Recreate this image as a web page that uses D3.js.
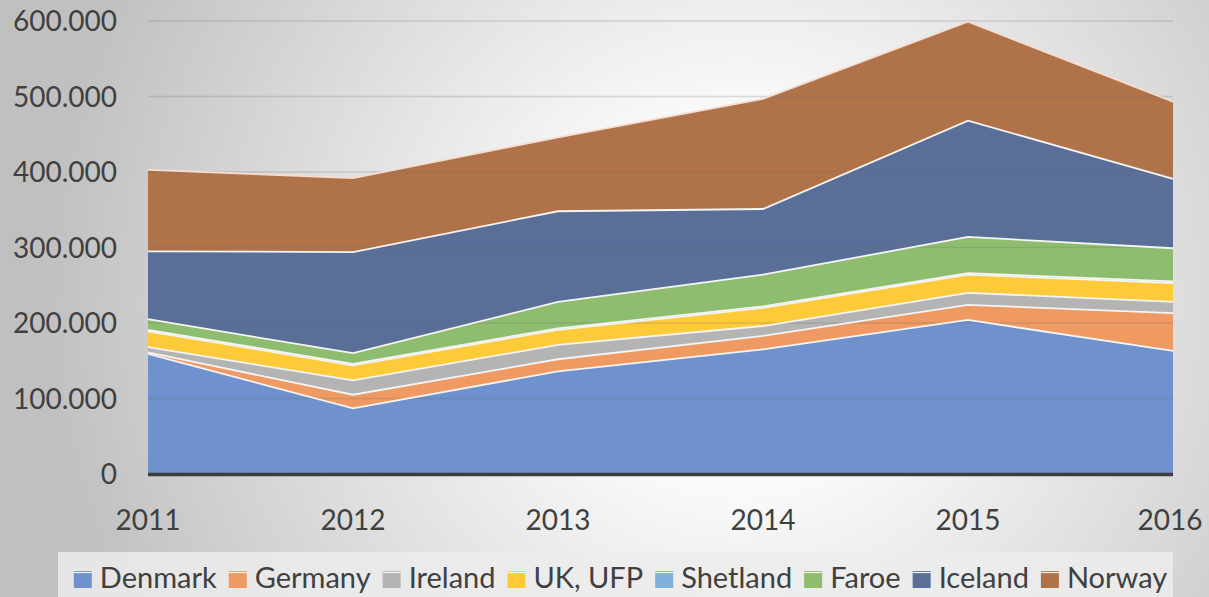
<!DOCTYPE html>
<html>
<head>
<meta charset="utf-8">
<script src="https://cdn.jsdelivr.net/npm/d3@7"></script>
<style>
  body { margin: 0; overflow: hidden; }
  svg { display: block; font-family: Lato, "Open Sans", sans-serif; }
</style>
</head>
<body>
<svg width="1209" height="597"></svg>
<script>
var years = [2011, 2012, 2013, 2014, 2015, 2016]
var countries = ["Denmark", "Germany", "Ireland", "UK, UFP", "Shetland", "Faroe", "Iceland", "Norway"]
var colors = ["#6f92cf", "#ee9a62", "#b4b4b4", "#fdcb3a", "#7eb0dc", "#8fbd6f", "#5a6f97", "#b07349"]

var denmark = [159000, 87000, 136000, 165000, 204000, 163000]
var germany = [2000, 18000, 16000, 18000, 20000, 50000]
var ireland = [7000, 19000, 19000, 13000, 16000, 15000]
var ukUfp = [21000, 20000, 20000, 24000, 24000, 25000]
var shetland = [2000, 2000, 2000, 2000, 2000, 2000]
var faroe = [14000, 14000, 35000, 42000, 48000, 44000]
var iceland = [90000, 134000, 120000, 87000, 154000, 92000]
var norway = [108000, 98000, 98000, 146000, 131000, 102000]

var yTicks = [0, 100000, 200000, 300000, 400000, 500000, 600000]

var series = [denmark, germany, ireland, ukUfp, shetland, faroe, iceland, norway]

var svg = d3.select("svg")
var width = +svg.attr("width")
var height = +svg.attr("height")

// background gradient
var defs = svg.append("defs")
var grad = defs.append("radialGradient").attr("id", "bg")
    .attr("gradientUnits", "userSpaceOnUse")
    .attr("cx", 740).attr("cy", 300).attr("r", 700)
grad.append("stop").attr("offset", "0%").attr("stop-color", "#ffffff")
grad.append("stop").attr("offset", "25%").attr("stop-color", "#fbfbfb")
grad.append("stop").attr("offset", "100%").attr("stop-color", "#c0c0c0")
svg.append("rect").attr("width", width).attr("height", height).attr("fill", "url(#bg)")

var margin = { left: 148, right: 36, top: 21, bottom: 123 }

var x = d3.scalePoint().domain(years).range([margin.left, width - margin.right])
var y = d3.scaleLinear().domain([0, 600000]).range([height - margin.bottom, margin.top])

var locale = d3.formatLocale({ decimal: ",", thousands: ".", grouping: [3], currency: ["", ""] })
var fmt = locale.format(",")

// stacked data
var table = years.map(function(yr, i) {
    var row = { year: yr }
    countries.forEach(function(c, j) { row[c] = series[j][i] })
    return row
})
var stack = d3.stack().keys(countries)
var layers = stack(table)

var area = d3.area()
    .x(d => x(d.data.year))
    .y0(d => y(d[0]))
    .y1(d => y(d[1]))

var line = d3.line()
    .x(d => x(d.data.year))
    .y(d => y(d[1]))

svg.append("g").selectAll("path").data(layers).join("path")
    .attr("d", area)
    .attr("fill", (d, i) => colors[i])

// gridlines (drawn over areas, faint)
svg.append("g").selectAll("line").data(yTicks.slice(1)).join("line")
    .attr("x1", margin.left).attr("x2", width - margin.right)
    .attr("y1", d => y(d)).attr("y2", d => y(d))
    .attr("stroke", "#6a6a6a").attr("stroke-opacity", 0.22).attr("stroke-width", 1.5)

svg.append("g").selectAll("path").data(layers).join("path")
    .attr("d", line)
    .attr("fill", "none")
    .attr("stroke", (d, i) => i == countries.length - 1 ? "#f6ddd0" : "#f4f4f4")
    .attr("stroke-width", 1.8)

// x axis line
svg.append("line")
    .attr("x1", margin.left).attr("x2", width - margin.right)
    .attr("y1", y(0) + 0.5).attr("y2", y(0) + 0.5)
    .attr("stroke", "#3d3d3d").attr("stroke-width", 3.5)

// y labels
svg.append("g").selectAll("text").data(yTicks).join("text")
    .attr("x", 117).attr("y", d => y(d))
    .attr("dy", "0.36em")
    .attr("text-anchor", "end")
    .attr("fill", "#404040")
    .style("font-size", "28px")
    .text(d => fmt(d))

// x labels
svg.append("g").selectAll("text").data(years).join("text")
    .attr("x", (d, i) => i == years.length - 1 ? x(d) - 3 : x(d))
    .attr("y", 530)
    .attr("text-anchor", "middle")
    .attr("fill", "#404040")
    .style("font-size", "28px")
    .text(d => d)

// legend
svg.append("rect")
    .attr("x", 58).attr("y", 552).attr("width", 1173 - 58).attr("height", 45)
    .attr("fill", "#ececec").attr("fill-opacity", 0.85)

var legend = svg.append("g")
var lx = 0
var gap = 12
countries.forEach(function(c, i) {
    var item = legend.append("g").attr("transform", "translate(" + lx + ",0)")
    item.append("rect").attr("x", 0).attr("y", -17).attr("width", 18).attr("height", 17)
        .attr("fill", colors[i])
    item.append("line").attr("x1", 0).attr("x2", 18).attr("y1", -15.5).attr("y2", -15.5)
        .attr("stroke", "#f4f4f4").attr("stroke-width", 1.2)
    var t = item.append("text").attr("x", 26).attr("y", 0)
        .attr("fill", "#404040").style("font-size", "29px").text(c)
    lx += 26 + t.node().getComputedTextLength() + gap
})
var legendW = lx - gap
legend.attr("transform", "translate(" + ((58 + 1173) / 2 - legendW / 2 + 5) + ",588)")
</script>
</body>
</html>
